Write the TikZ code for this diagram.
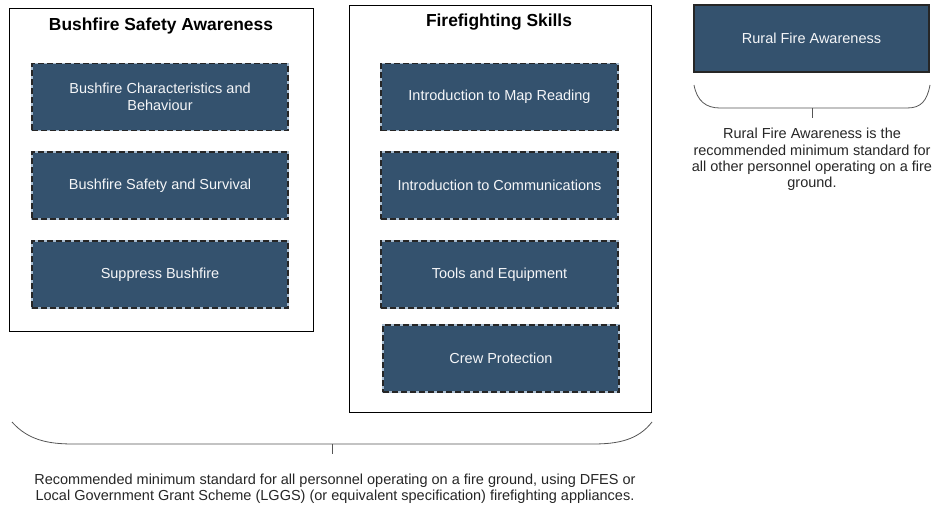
\documentclass[tikz,border=0pt]{standalone}
\usepackage{fontspec}
\setmainfont{Liberation Sans}
\usetikzlibrary{positioning}
\definecolor{rfnavy}{HTML}{34526E}
\definecolor{rfedge}{HTML}{A9BDD0}
\definecolor{rfgrey}{HTML}{555555}

\begin{document}
\begin{tikzpicture}[x=1pt, y=-1pt,
    every node/.style={font=\fontsize{14.5}{17.5}\selectfont, align=center, inner sep=0pt},
    group/.style={draw, line width=0.9pt},
    heading/.style={font=\fontsize{17.4}{20}\selectfont\bfseries},
    course/.style={fill=rfnavy, draw=rfedge, line width=1.3pt, text=white!95!rfnavy,
      minimum width=256pt, minimum height=67pt,
      postaction={draw=black!85, line width=1.3pt, dash pattern=on 6pt off 3pt}},
    brace/.style={draw=rfgrey, line width=0.8pt},
    note/.style={text=black!85, font=\fontsize{14.5}{16.3}\selectfont}]
  \useasboundingbox (0,0) rectangle (937,506);
  % outer groups
  \node[group, minimum width=304pt, minimum height=323pt] (bsa) at (161,169.5) {};
  \node[group, minimum width=302pt, minimum height=407pt] (ffs) at (500,208.5) {};
  \node[heading] (bsatitle) at (161,26.5) {Bushfire Safety Awareness};
  \node[heading] (ffstitle) at (499,22.5) {Firefighting Skills};
  % bushfire safety awareness
  \node[course] (bcb) at (160,97) {Bushfire Characteristics and\\Behaviour};
  \node[course] (bss) at (160,185.5) {Bushfire Safety and Survival};
  \node[course] (sb) at (160,274.5) {Suppress Bushfire};
  % firefighting skills
  \node[course, minimum width=237pt] (imr) at (499.5,97) {Introduction to Map Reading};
  \node[course, minimum width=237pt] (ic) at (499.5,185.5) {Introduction to Communications};
  \node[course, minimum width=237pt] (te) at (499.5,274.5) {Tools and Equipment};
  \node[course, minimum width=236pt] (cp) at (501,358.5) {Crew Protection};
  % rural fire awareness
  \node[fill=rfnavy, draw=black!85, line width=1.3pt, text=white!95!rfnavy,
    minimum width=235pt, minimum height=67pt] (rfa) at (811.5,38.5) {Rural Fire Awareness};
  % braces
  \coordinate (rfl) at (694,85);
  \coordinate (rfr) at (930,85);
  \coordinate (rftip) at (812,108);
  \draw[brace] (rfl) .. controls (697,101) and (706,108) .. (720,108) -- (907,108)
    .. controls (921,108) and (927,101) .. (rfr);
  \draw[brace] (rftip) -- ++(0,10);
  \node[note, below=20pt of rftip] (rfnote) {Rural Fire Awareness is the\\recommended minimum standard for\\all other personnel operating on a fire\\ground.};
  \coordinate (bigl) at (12,422);
  \coordinate (bigr) at (652,422);
  \coordinate (bigtip) at (332,444);
  \draw[brace] (bigl) .. controls (28,440) and (48,444) .. (73,444) -- (593,444)
    .. controls (618,444) and (638,440) .. (bigr);
  \draw[brace] (bigtip) -- ++(0,10);
  \node[note, font=\fontsize{14.5}{16}\selectfont] (allnote) at (335,489) {Recommended minimum standard for all personnel operating on a fire ground, using DFES or\\Local Government Grant Scheme (LGGS) (or equivalent specification) firefighting appliances.};
\end{tikzpicture}
\end{document}
